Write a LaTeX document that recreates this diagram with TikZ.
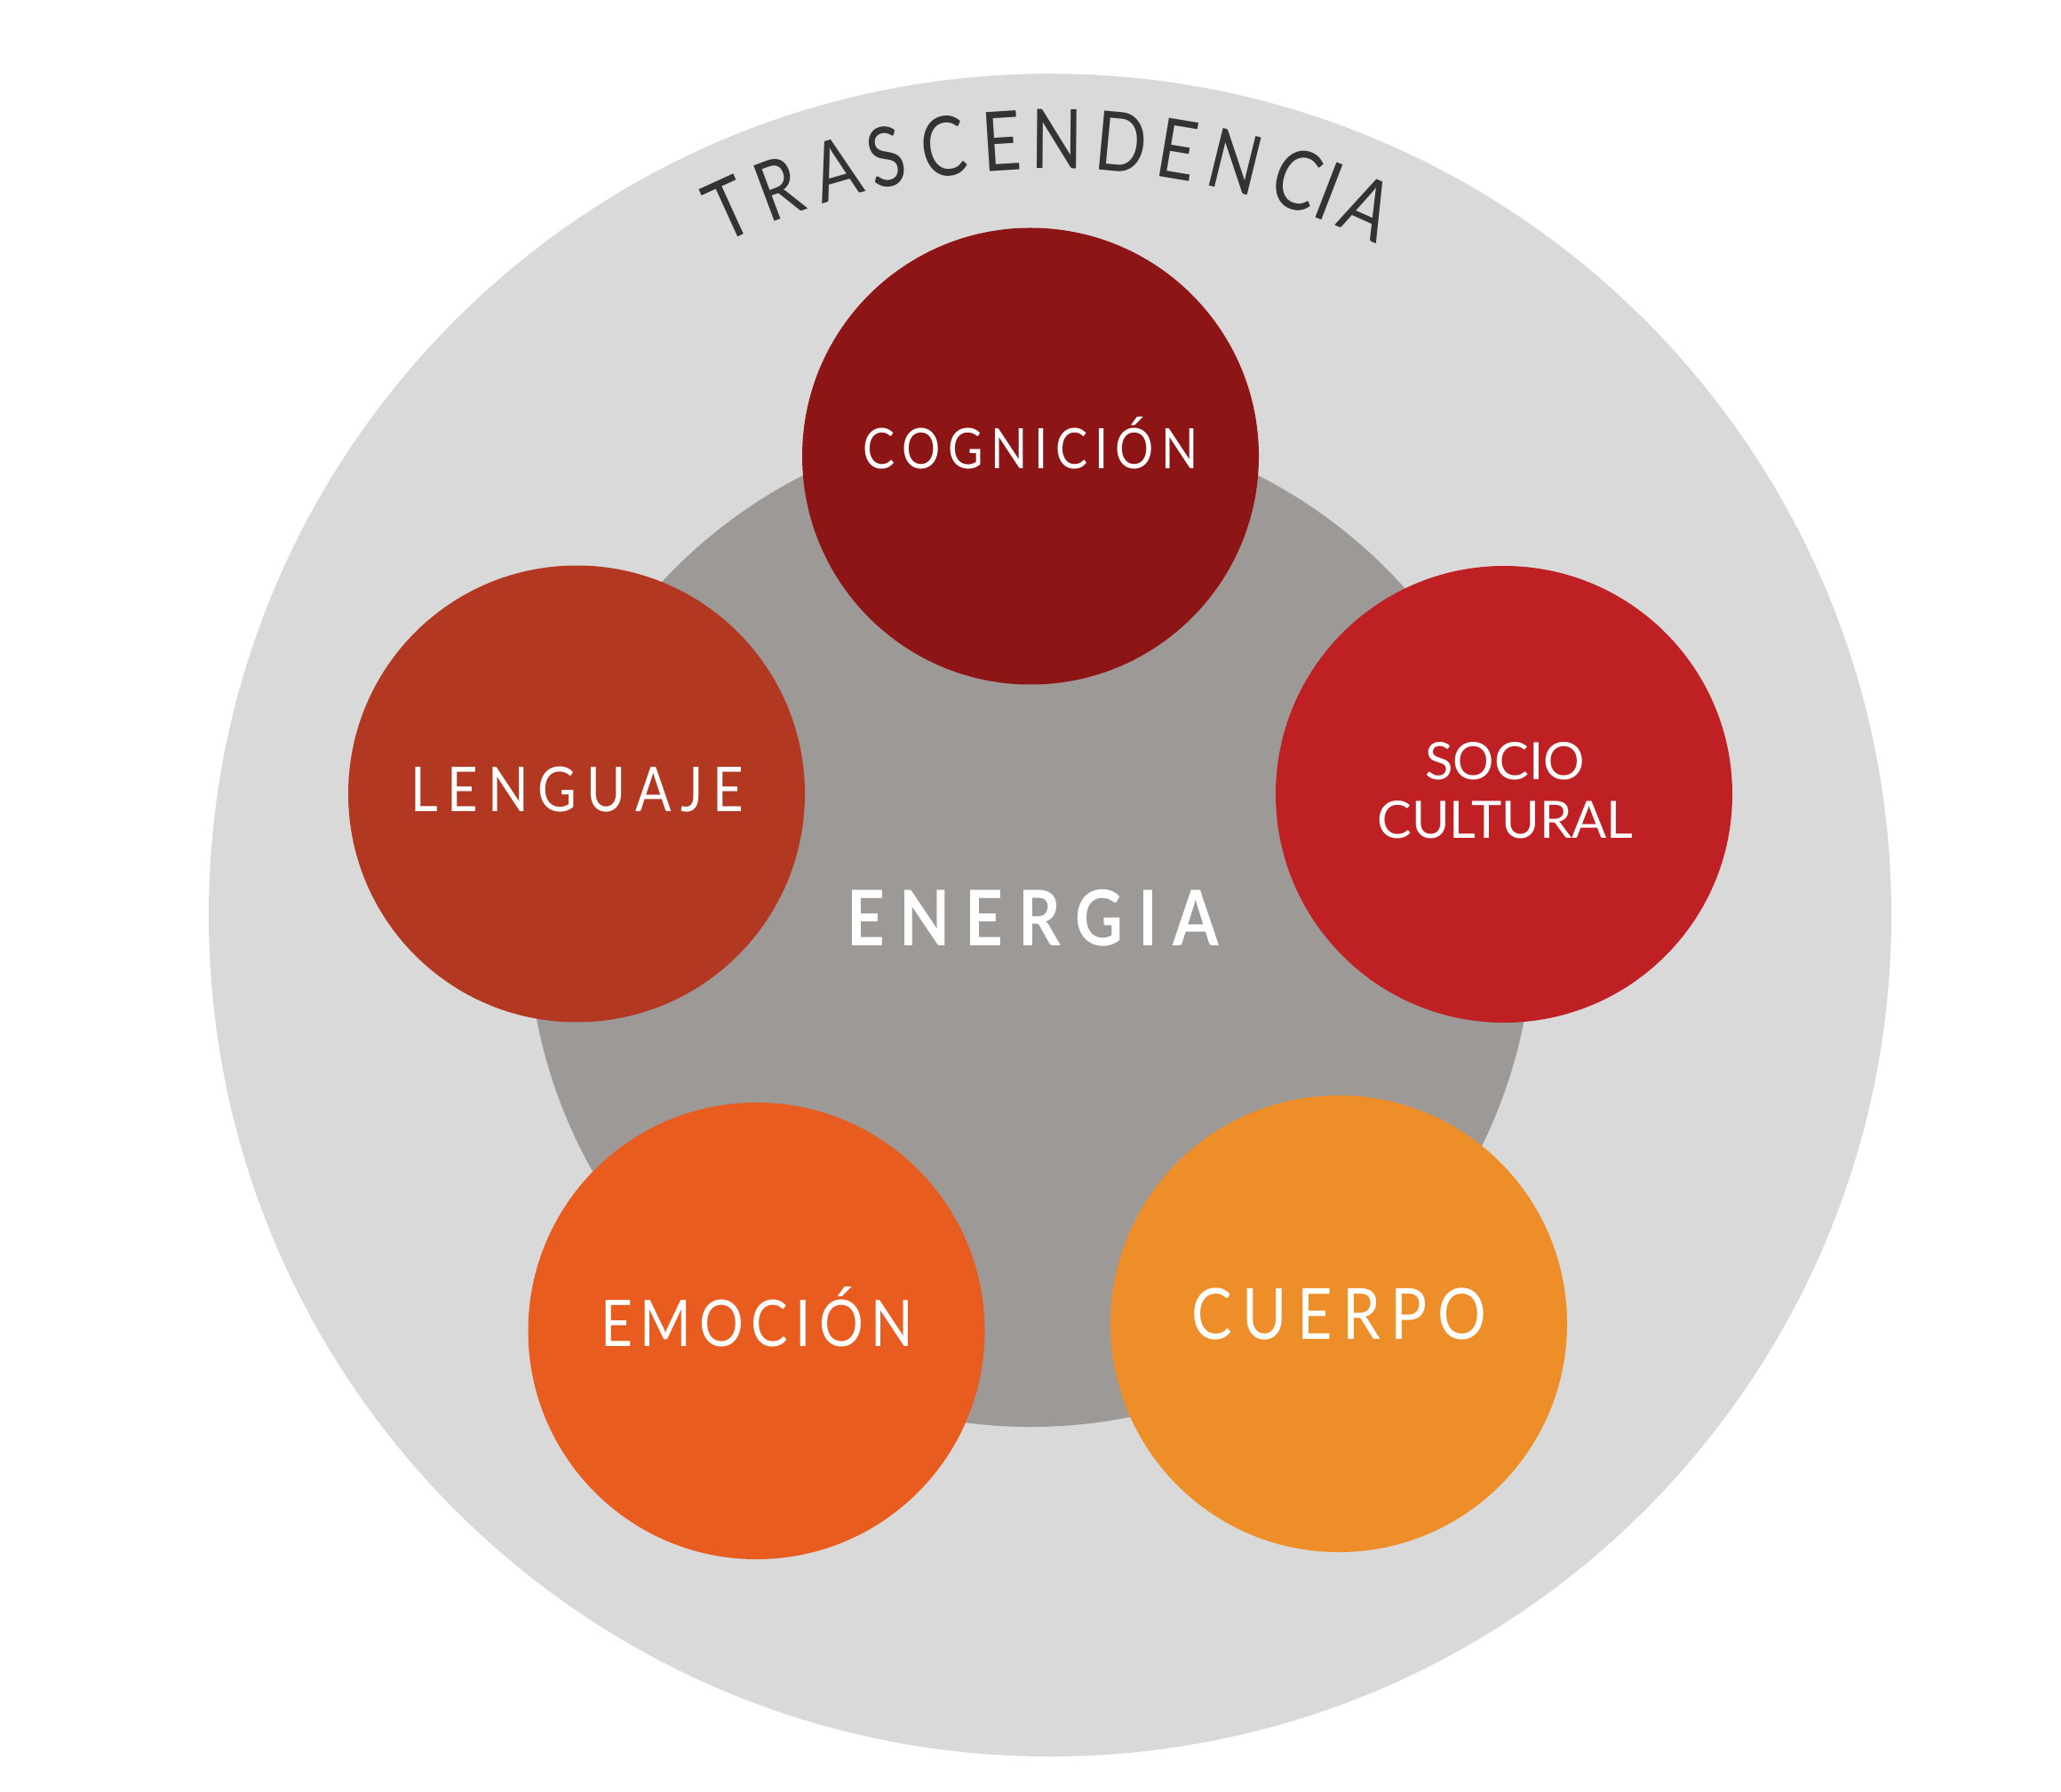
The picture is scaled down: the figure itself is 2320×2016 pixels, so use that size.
\documentclass[tikz,border=0pt]{standalone}
\usepackage{fontspec}
\setmainfont{Lato}[FakeStretch=0.86]
\newfontfamily\arcfont{Lato}[FakeStretch=0.82]
\newfontfamily\widefont{Lato}
\definecolor{outergray}{HTML}{D9D9D9}
\definecolor{midgray}{HTML}{9D9997}
\definecolor{cogcol}{HTML}{8E1516}
\definecolor{lencol}{HTML}{B33822}
\definecolor{soccol}{HTML}{BE2023}
\definecolor{emocol}{HTML}{E85C20}
\definecolor{cuecol}{HTML}{EE8E29}
\definecolor{tdark}{HTML}{333333}
\makeatletter
\newcommand\spreadto[2]{\hbox to #1{\def\sp@sep{}\@tfor\sp@c:=#2\do{\sp@sep\sp@c\def\sp@sep{\hfill}}}}
\makeatother
\newcommand\fsz[1]{\fontsize{#1}{#1}\selectfont}
\tikzset{
  disc/.style={circle, inner sep=0pt, outer sep=0pt, draw=none},
  bubble/.style={disc, minimum size=128.5pt},
  lab/.style={anchor=base, inner sep=0pt, outer sep=0pt, text=white},
  arcletter/.style={anchor=base, inner sep=0pt, outer sep=0pt, text=tdark, font=\arcfont\fsz{23.2}},
}
\begin{document}
\begin{tikzpicture}[x=0.25pt, y=0.25pt]
\fill[white] (0,0) rectangle (2320,2016);
\useasboundingbox (0,0) rectangle (2320,2016);
% outer circle
\node[disc, fill=outergray, minimum size=473.5pt] (outer) at (1182,986) {};
% middle circle
\node[disc, fill=midgray, minimum size=283pt] (energy) at (1160,976) {};
% five circles
\node[bubble, fill=cogcol] (cog) at (1160,1502.5) {};
\node[bubble, fill=lencol] (len) at (649,1122.5) {};
\node[bubble, fill=soccol] (soc) at (1693,1122) {};
\node[bubble, fill=emocol] (emo) at (851.5,518) {};
\node[bubble, fill=cuecol] (cue) at (1507,526) {};
% labels
\node[lab, font=\fsz{15.7}] (cogtxt) at (1160,1488) {\spreadto{94.25pt}{COGNICI^^^^00d3N}};
\node[lab, font=\fsz{17.4}] (lentxt) at (649.5,1103) {\spreadto{93.75pt}{LENGUAJE}};
\node[lab, font=\widefont\fsz{14.5}] (soctxta) at (1694,1139) {SOCIO};
\node[lab, font=\widefont\fsz{14.5}] (soctxtb) at (1694.5,1073) {CULTURAL};
\node[lab, font=\fsz{18.1}] (emotxt) at (852,501) {\spreadto{88pt}{EMOCI^^^^00d3N}};
\node[lab, font=\fsz{19.9}] (cuetxt) at (1507,509) {\spreadto{83pt}{CUERPO}};
\node[lab, font=\fsz{21.6}\bfseries] (enetxt) at (1162.5,952) {\spreadto{104.75pt}{ENERGIA}};
% curved title, letter by letter on a circle concentric with the outer disc
\foreach \ch/\ang [count=\i] in {T/114.5, R/110.5, A/106.0, S/102.2, C/97.9, E/93.6, N/89.5,
                                  D/84.7, E/80.5, N/76.2, C/71.4, I/68.9, A/65.8}
  \node[arcletter, rotate=\ang-90] (tr\i) at ([shift={(\ang:840)}]outer.center) {\ch};
\end{tikzpicture}
\end{document}
